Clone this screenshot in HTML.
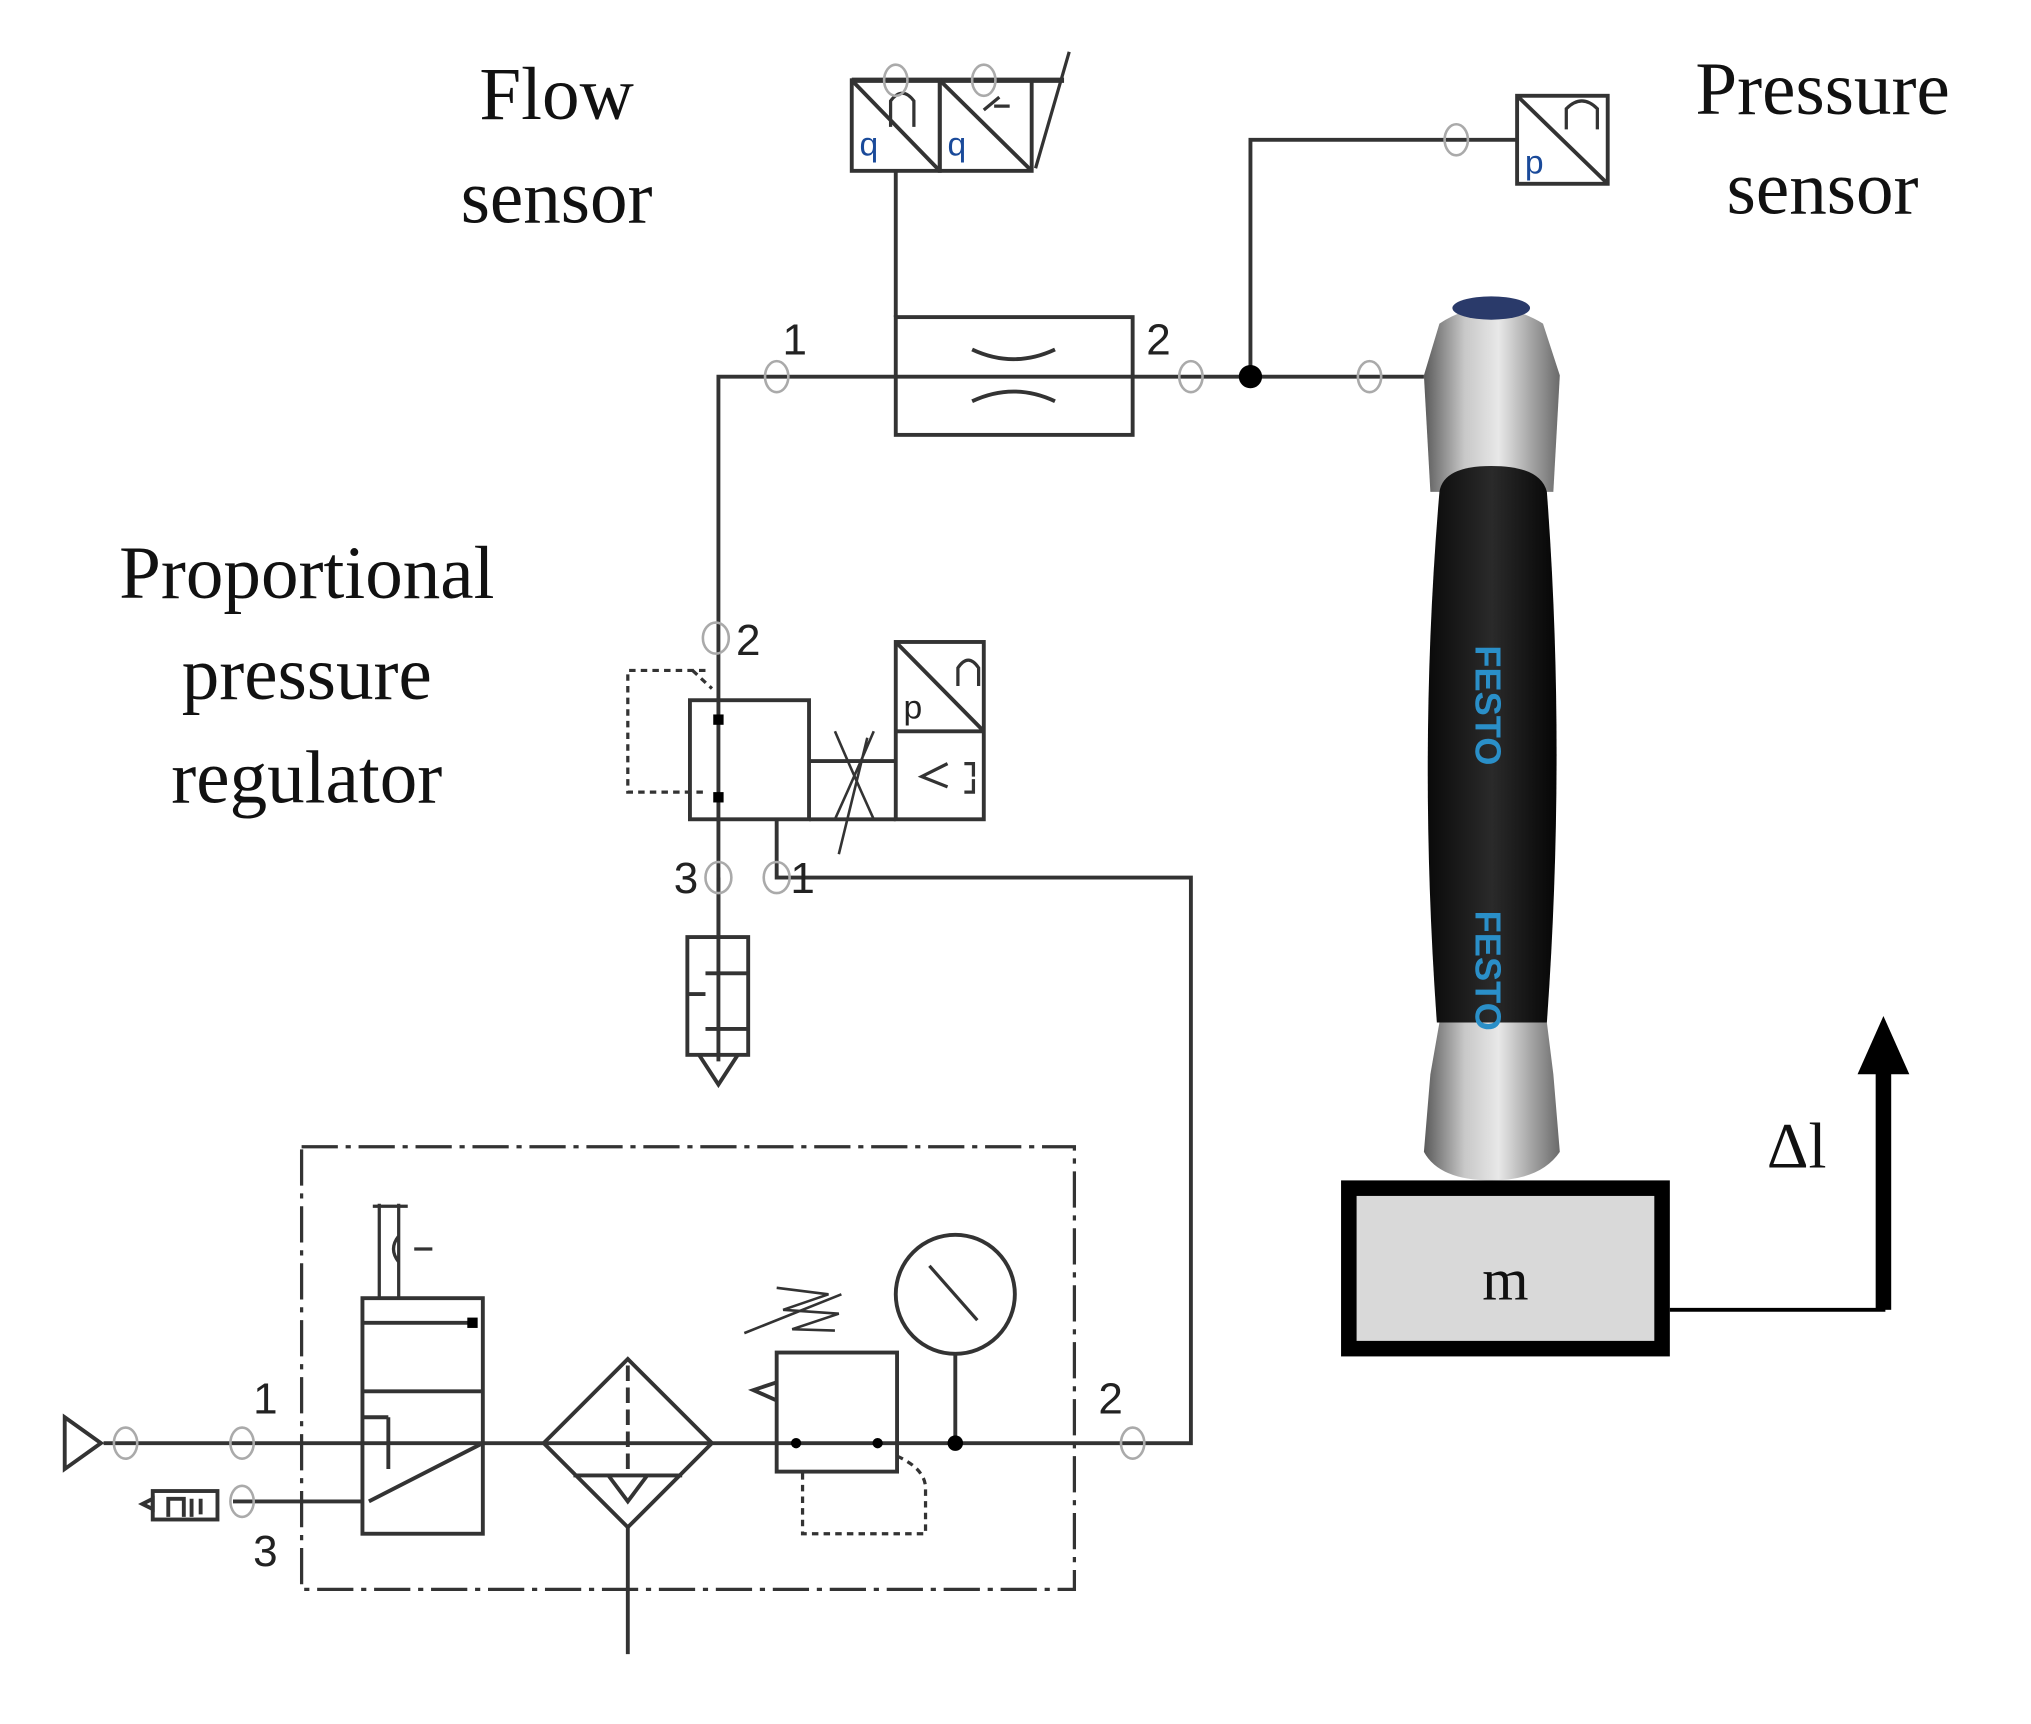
<!DOCTYPE html>
<html><head><style>html,body{margin:0;padding:0;background:#fff}svg{display:block}</style></head>
<body>
<svg width="2031" height="1724" viewBox="0 0 1569 1332" preserveAspectRatio="none" xmlns="http://www.w3.org/2000/svg">
<defs>
<linearGradient id="met" x1="0" x2="1">
<stop offset="0" stop-color="#5a5a5a"/><stop offset="0.3" stop-color="#c8c8c8"/><stop offset="0.55" stop-color="#e8e8e8"/><stop offset="1" stop-color="#6a6a6a"/>
</linearGradient>
<linearGradient id="blk" x1="0" x2="1">
<stop offset="0" stop-color="#0a0a0a"/><stop offset="0.5" stop-color="#2a2a2a"/><stop offset="1" stop-color="#050505"/>
</linearGradient>
</defs>
<g font-family="Liberation Serif, serif" font-size="58" fill="#111" text-anchor="middle">
<text x="430" y="92">Flow</text><text x="430" y="172">sensor</text>
<text x="1408" y="88">Pressure</text><text x="1408" y="165">sensor</text>
<text x="237" y="462">Proportional</text><text x="237" y="540">pressure</text><text x="237" y="620">regulator</text>
<text x="1388" y="902" font-size="50">Δl</text>
</g>
<g fill="none" stroke="#333" stroke-width="3">
<line x1="658" y1="62" x2="822" y2="62" stroke-width="4"/>
<rect x="658" y="62" width="68" height="70"/>
<rect x="726" y="62" width="71" height="70"/>
<line x1="658" y1="62" x2="726" y2="132"/><line x1="726" y1="62" x2="797" y2="132"/>
<path d="M688 98 V78 Q697 66 706 78 V98" stroke-width="2.5"/>
<path d="M760 85 L772 75 M768 82 L780 82" stroke-width="2.5"/>
<line x1="800" y1="130" x2="826" y2="40" stroke-width="2.5"/>
<line x1="692" y1="132" x2="692" y2="245"/>
<rect x="692" y="245" width="183" height="91"/>
<path d="M751 270 Q783 285 815 270 M751 310 Q783 295 815 310"/>
<path d="M555 820 V291 H1100"/>
<path d="M966 291 V108 H1172"/>
<rect x="1172" y="74" width="70" height="68"/>
<line x1="1172" y1="74" x2="1242" y2="142"/>
<path d="M1210 100 V84 Q1222 72 1234 84 V100" stroke-width="2.5"/>
<rect x="533" y="541" width="92" height="92"/>
<path d="M625 588 H692 M625 633 H692"/>
<rect x="692" y="496" width="68" height="137"/>
<line x1="692" y1="565" x2="760" y2="565"/>
<line x1="692" y1="496" x2="760" y2="565"/>
<path d="M740 530 V516 Q748 504 756 516 V530" stroke-width="2.5"/>
<path d="M732 590 L712 600 L732 608 M745 590 H752 V600 M745 612 H752 V602" stroke-width="2.5"/>
<path d="M648 660 L670 570 M645 565 Q660 600 675 633 M675 565 Q660 600 645 633" stroke-width="2"/>
<path d="M545 518 H485 V612 H545 M535 518 L550 532" stroke-dasharray="5,4" stroke-width="2.5"/>
<path d="M600 633 V678 H920 V1115 H80"/>
<rect x="531" y="724" width="47" height="91"/>
<path d="M555 724 V678 M545 752 H578 M531 768 H545 M545 795 H578"/>
<path d="M540 815 L555 838 L570 815"/>
<rect x="233" y="886" width="597" height="342" stroke-dasharray="28,6,4,6" stroke-width="2.5"/>
<path d="M50 1095 L78 1115 L50 1135 Z"/>
<rect x="280" y="1003" width="93" height="182"/>
<line x1="280" y1="1075" x2="373" y2="1075"/>
<path d="M280 1022 H365 M300 1095 V1120 M280 1095 H300 M300 1115 V1135"/>
<path d="M373 1115 L285 1160 M280 1160 H180"/>
<path d="M293 1003 V930 M308 1003 V930 M288 932 H315 M308 955 Q300 965 308 975 M320 965 H334" stroke-width="2.5"/>
<rect x="118" y="1152" width="50" height="22"/>
<path d="M130 1172 V1158 H142 V1172 M148 1158 V1172 M155 1158 V1170"/>
<path d="M110 1162 L118 1158 V1166 Z"/>
<path d="M420 1115 L485 1050 L550 1115 L485 1180 Z"/>
<path d="M443 1140 H527 M470 1140 L485 1160 L500 1140"/>
<path d="M485 1055 V1140" stroke-dasharray="12,5"/>
<path d="M485 1180 V1278"/>
<rect x="600" y="1045" width="93" height="92"/>
<path d="M600 1068 L582 1074 L600 1082"/>
<path d="M575 1030 L650 1000 M600 995 L640 1000 L605 1012 L648 1015 L612 1027 L645 1028" stroke-width="2"/>
<path d="M693 1125 Q715 1135 715 1150 V1185 H620 V1137" stroke-dasharray="5,4" stroke-width="2.5"/>
<circle cx="738" cy="1000" r="46"/>
<line x1="738" y1="1046" x2="738" y2="1115"/>
<line x1="718" y1="978" x2="755" y2="1020" stroke-width="2.5"/>
<path d="M1290 1012 H1455 V830" stroke="#000"/>
</g>
<polygon points="1435,830 1455,785 1475,830" fill="#000"/>
<rect x="1449" y="828" width="12" height="184" fill="#000"/>
<g fill="#000">
<circle cx="966" cy="291" r="9"/>
<circle cx="738" cy="1115" r="6"/>
<rect x="551" y="552" width="8" height="8"/><rect x="551" y="612" width="8" height="8"/>
<rect x="361" y="1018" width="8" height="8"/>
<circle cx="615" cy="1115" r="4"/><circle cx="678" cy="1115" r="4"/>
</g>
<g font-family="Liberation Sans, sans-serif" font-size="26" fill="#1a4a9a">
<text x="664" y="120">q</text><text x="732" y="120">q</text><text x="1178" y="134">p</text>
<text x="698" y="555" fill="#222">p</text>
</g>
<g fill="none" stroke="#aaa" stroke-width="2">
<ellipse cx="600" cy="291" rx="9" ry="12"/><ellipse cx="920" cy="291" rx="9" ry="12"/><ellipse cx="1058" cy="291" rx="9" ry="12"/>
<ellipse cx="1125" cy="108" rx="9" ry="12"/><ellipse cx="692" cy="62" rx="9" ry="12"/><ellipse cx="760" cy="62" rx="9" ry="12"/>
<ellipse cx="553" cy="493" rx="10" ry="12"/><ellipse cx="555" cy="678" rx="10" ry="12"/><ellipse cx="600" cy="678" rx="10" ry="12"/>
<ellipse cx="97" cy="1115" rx="9" ry="12"/><ellipse cx="187" cy="1115" rx="9" ry="12"/><ellipse cx="187" cy="1160" rx="9" ry="12"/><ellipse cx="875" cy="1115" rx="9" ry="12"/>
</g>
<g font-family="Liberation Sans, sans-serif" font-size="34" fill="#222" text-anchor="middle">
<text x="614" y="274">1</text><text x="895" y="274">2</text>
<text x="578" y="506">2</text><text x="530" y="690">3</text><text x="620" y="690">1</text>
<text x="205" y="1092">1</text><text x="858" y="1092">2</text><text x="205" y="1210">3</text>
</g>
<path d="M1112 250 Q1150 225 1192 250 L1205 290 L1200 380 L1105 380 L1100 290 Z" fill="url(#met)"/>
<ellipse cx="1152" cy="238" rx="30" ry="9" fill="#2a3a6a"/>
<path d="M1112 380 Q1115 360 1152 360 Q1190 360 1195 380 Q1210 580 1195 790 L1110 790 Q1095 580 1112 380 Z" fill="url(#blk)"/>
<path d="M1112 790 L1195 790 L1200 830 L1205 890 Q1190 912 1152 912 Q1112 912 1100 890 L1105 830 Z" fill="url(#met)"/>
<text x="1140" y="545" transform="rotate(90 1140 545)" font-family="Liberation Sans, sans-serif" font-weight="bold" font-size="28" fill="#2a8fc8" text-anchor="middle">FESTO</text>
<text x="1140" y="750" transform="rotate(90 1140 750)" font-family="Liberation Sans, sans-serif" font-weight="bold" font-size="28" fill="#2a8fc8" text-anchor="middle">FESTO</text>
<rect x="1042" y="918" width="242" height="124" fill="#d9d9d9" stroke="#000" stroke-width="12"/>
<text x="1163" y="1004" font-family="Liberation Serif, serif" font-size="46" fill="#111" text-anchor="middle">m</text>
</svg>
</body></html>
